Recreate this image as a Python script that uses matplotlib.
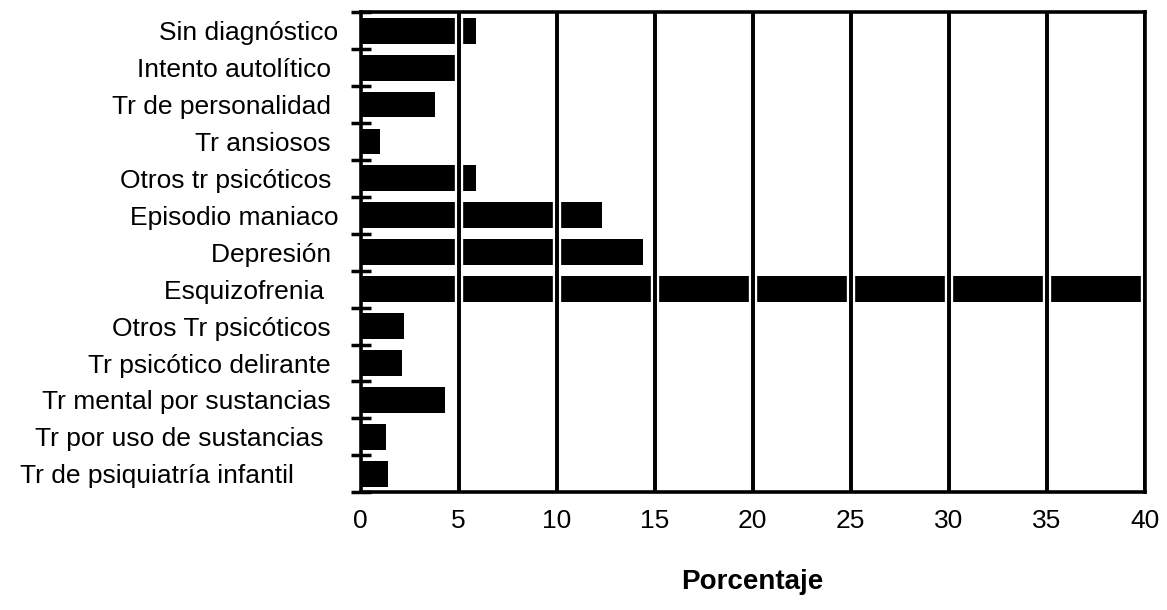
import numpy as np
import matplotlib.pyplot as plt
import matplotlib.patheffects as pe

plt.rcParams['font.family'] = ['Liberation Sans', 'DejaVu Sans']

categorias = ["Sin diagnóstico", "Intento autolítico ", "Tr de personalidad ", "Tr ansiosos ",
              "Otros tr psicóticos ", "Episodio maniaco", "Depresión ", "Esquizofrenia  ",
              "Otros Tr psicóticos ", "Tr psicótico delirante ", "Tr mental por sustancias ",
              "Tr por uso de sustancias  ", "Tr de psiquiatría infantil      "]
porcentaje = [5.9, 4.9, 3.8, 1.0, 5.9, 12.3, 14.4, 39.9, 2.2, 2.1, 4.3, 1.3, 1.4]
ticks_x = [0, 5, 10, 15, 20, 25, 30, 35, 40]

fig = plt.figure(figsize=(11.67, 6.10), dpi=100)
ax = fig.add_axes([0.309, 0.193, 0.672, 0.787])

y = np.arange(len(categorias))
ax.barh(y, porcentaje, height=0.7, color="black", zorder=1)

ax.set_xlim(0, 40)
ax.set_ylim(len(categorias) - 0.5, -0.5)
ax.set_xticks(ticks_x)
ax.set_xticklabels([str(t) for t in ticks_x], fontsize=19)
ax.set_yticks(y)
ax.set_yticklabels(categorias, fontsize=19)
ax.set_yticks(np.arange(len(categorias) + 1) - 0.5, minor=True)
ax.tick_params(axis="y", which="major", length=0, pad=16)
ax.tick_params(axis="y", which="minor", direction="inout", length=14, width=2.5)
ax.tick_params(axis="x", which="major", length=0, pad=12)

ax.grid(axis="x", color="black", linewidth=2.6)
for i, ln in enumerate(ax.xaxis.get_gridlines()):
    ln.set_zorder(3)
    if i == 0:
        ln.set_visible(False)
    else:
        ln.set_path_effects([pe.withStroke(linewidth=6, foreground="white"), pe.Normal()])

for s in ax.spines.values():
    s.set_linewidth(2.6)

ax.set_xlabel("Porcentaje", fontsize=20, fontweight="bold", labelpad=26)

plt.savefig("out.png")
